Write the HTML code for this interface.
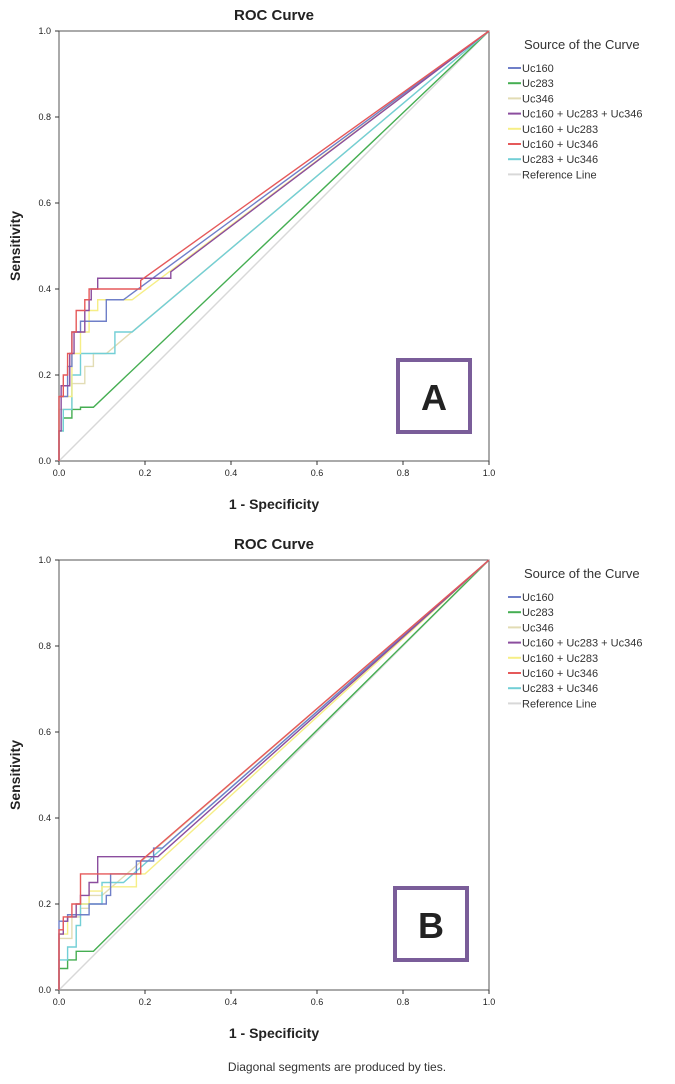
<!DOCTYPE html>
<html><head><meta charset="utf-8"><style>
body{margin:0;background:#fff;font-family:"Liberation Sans",sans-serif}
svg{display:block}
</style></head><body>
<svg id="chart" width="675" height="1084" xmlns="http://www.w3.org/2000/svg" font-family="Liberation Sans, sans-serif"></svg>
<script>
const seriesNames = ["Uc160","Uc283","Uc346","Uc160 + Uc283 + Uc346","Uc160 + Uc283","Uc160 + Uc346","Uc283 + Uc346","Reference Line"];
const seriesColors = ["#6f7fc8","#45ae52","#e2dcb4","#8b4d9e","#f6ee86","#e5595a","#72cfd6","#d8d8d8"];
const tickLabels = ["0.0","0.2","0.4","0.6","0.8","1.0"];
const tickValues = [0,0.2,0.4,0.6,0.8,1];
// Panel A curves (x = 1-specificity, y = sensitivity)
const aUc160X = [0,0,0.02,0.03,0.05,0.07,0.085,0.11,0.11,0.15,1];
const aUc160Y = [0,0.05,0.15,0.22,0.3,0.325,0.325,0.325,0.35,0.375,1];
const aUc283X = [0,0,0.01,0.03,0.05,0.08,1];
const aUc283Y = [0,0.05,0.07,0.1,0.12,0.125,1];
const aUc346X = [0,0,0.03,0.06,0.08,0.11,1];
const aUc346Y = [0,0.05,0.12,0.18,0.22,0.25,1];
const aAllX = [0,0,0.005,0.005,0.025,0.025,0.035,0.045,0.06,0.07,0.075,0.09,0.1,0.26,0.26,1];
const aAllY = [0,0.07,0.07,0.175,0.175,0.22,0.25,0.3,0.3,0.35,0.375,0.4,0.425,0.425,0.44,1];
const a160_283X = [0,0,0.03,0.05,0.07,0.09,0.1,0.17,1];
const a160_283Y = [0,0.1,0.15,0.25,0.3,0.35,0.375,0.375,1];
const a160_346X = [0,0,0.01,0.02,0.03,0.04,0.06,0.07,0.11,0.19,0.19,1];
const a160_346Y = [0,0.1,0.15,0.2,0.25,0.3,0.35,0.375,0.4,0.4,0.42,1];
const a283_346X = [0,0,0.01,0.03,0.05,0.07,0.13,0.14,0.17,1];
const a283_346Y = [0,0.05,0.07,0.12,0.2,0.25,0.25,0.3,0.3,1];
// Panel B curves
const bUc160X = [0,0,0.02,0.04,0.07,0.11,0.12,0.18,0.22,0.24,1];
const bUc160Y = [0,0.08,0.16,0.175,0.175,0.2,0.22,0.27,0.3,0.33,1];
const bUc283X = [0,0,0.02,0.04,0.05,0.08,1];
const bUc283Y = [0,0.04,0.05,0.07,0.09,0.09,1];
const bUc346X = [0,0,0.03,0.05,0.07,0.1,1];
const bUc346Y = [0,0.06,0.12,0.17,0.19,0.22,1];
const bAllX = [0,0,0.01,0.02,0.04,0.05,0.07,0.09,0.13,0.23,1];
const bAllY = [0,0.08,0.13,0.16,0.17,0.2,0.22,0.25,0.31,0.31,1];
const b160_283X = [0,0,0.02,0.04,0.07,0.1,0.18,0.2,1];
const b160_283Y = [0,0.1,0.13,0.17,0.2,0.23,0.24,0.27,1];
const b160_346X = [0,0,0.01,0.03,0.05,0.06,0.19,0.19,1];
const b160_346Y = [0,0.12,0.14,0.17,0.2,0.27,0.27,0.3,1];
const b283_346X = [0,0,0.02,0.04,0.05,0.1,0.1,0.15,1];
const b283_346Y = [0,0.04,0.07,0.1,0.15,0.2,0.23,0.25,1];
const refX = [0,1];
const refY = [0,1];

const NS="http://www.w3.org/2000/svg";
const svg=document.getElementById('chart');
function mk(tag,attrs,parent){const e=document.createElementNS(NS,tag);for(const k in attrs)e.setAttribute(k,attrs[k]);(parent||svg).appendChild(e);return e;}

function stepPoints(xs,ys,sx,sy){
  const pts=[[xs[0],ys[0]]];
  for(let j=1;j<xs.length;j++){
    if(j===xs.length-1){pts.push([xs[j],ys[j]]);}
    else{pts.push([xs[j-1],ys[j]]);pts.push([xs[j],ys[j]]);}
  }
  return pts.map(p=>sx(p[0])+','+sy(p[1])).join(' ');
}

function panel(top,label,curves,pname){
  const g=mk('g',{});
  
  
  const L=59,R=489,T=top,B=top+430;
  const sx=v=>L+v*(R-L), sy=v=>B-v*(B-T);
  const t=mk('text',{x:274,y:top-11,'text-anchor':'middle','font-size':15,'font-weight':'bold',fill:'#222'},g);t.textContent='ROC Curve';
  
  
  const fr=mk('rect',{x:L,y:T,width:R-L,height:B-T,fill:'none',stroke:'#555','stroke-width':1},g);
  
  
  tickValues.forEach((v,i)=>{
    mk('line',{x1:L-4,x2:L,y1:sy(v),y2:sy(v),stroke:'#333'},g);
    mk('line',{x1:sx(v),x2:sx(v),y1:B,y2:B+4,stroke:'#333'},g);
    const ty=mk('text',{x:L-8,y:sy(v)+3,'text-anchor':'end','font-size':9,fill:'#222'},g);ty.textContent=tickLabels[i];
    
    
    const tx=mk('text',{x:sx(v),y:B+15,'text-anchor':'middle','font-size':9,fill:'#222'},g);tx.textContent=tickLabels[i];
    
    
  });
  const xt=mk('text',{x:274,y:B+48,'text-anchor':'middle','font-size':14,'font-weight':'bold',fill:'#222'},g);xt.textContent='1 - Specificity';
  
  
  const yt=mk('text',{x:20,y:(T+B)/2,'text-anchor':'middle','font-size':14,'font-weight':'bold',fill:'#222',transform:`rotate(-90 20 ${(T+B)/2})`},g);yt.textContent='Sensitivity';
  
  
  const order=[7,2,1,6,4,0,3,5];
  order.forEach(i=>{
    const [xs,ys]=curves[i];
    const p=mk('polyline',{points:stepPoints(xs,ys,sx,sy),fill:'none',stroke:seriesColors[i],'stroke-width':1.4},g);
    
    
  });
  const lt=mk('text',{x:524,y:top+18,'font-size':13,fill:'#333'},g);lt.textContent='Source of the Curve';
  
  
  seriesNames.forEach((n,i)=>{
    const y=top+37+i*15.2;
    const eg=mk('g',{},g);
    
    
    mk('line',{x1:508,x2:521,y1:y,y2:y,stroke:seriesColors[i],'stroke-width':2},eg);
    const tx=mk('text',{x:522,y:y+4,'font-size':11,fill:'#333'},eg);tx.textContent=n;
  });
  const bx=label==='A'?398:395, by=label==='A'?top+329:top+328;
  const box=mk('rect',{x:bx,y:by,width:72,height:72,fill:'#fff',stroke:'#7a5d99','stroke-width':4},g);
  
  
  const lb=mk('text',{x:bx+36,y:by+50,'text-anchor':'middle','font-size':36,'font-weight':'bold',fill:'#222'},g);lb.textContent=label;
  
  
}
panel(31,'A',[[aUc160X,aUc160Y],[aUc283X,aUc283Y],[aUc346X,aUc346Y],[aAllX,aAllY],[a160_283X,a160_283Y],[a160_346X,a160_346Y],[a283_346X,a283_346Y],[refX,refY]],'panel-a');
panel(560,'B',[[bUc160X,bUc160Y],[bUc283X,bUc283Y],[bUc346X,bUc346Y],[bAllX,bAllY],[b160_283X,b160_283Y],[b160_346X,b160_346Y],[b283_346X,b283_346Y],[refX,refY]],'panel-b');
const ft=mk('text',{x:337,y:1071,'text-anchor':'middle','font-size':12,fill:'#333'});ft.textContent='Diagonal segments are produced by ties.';


</script>
</body></html>
